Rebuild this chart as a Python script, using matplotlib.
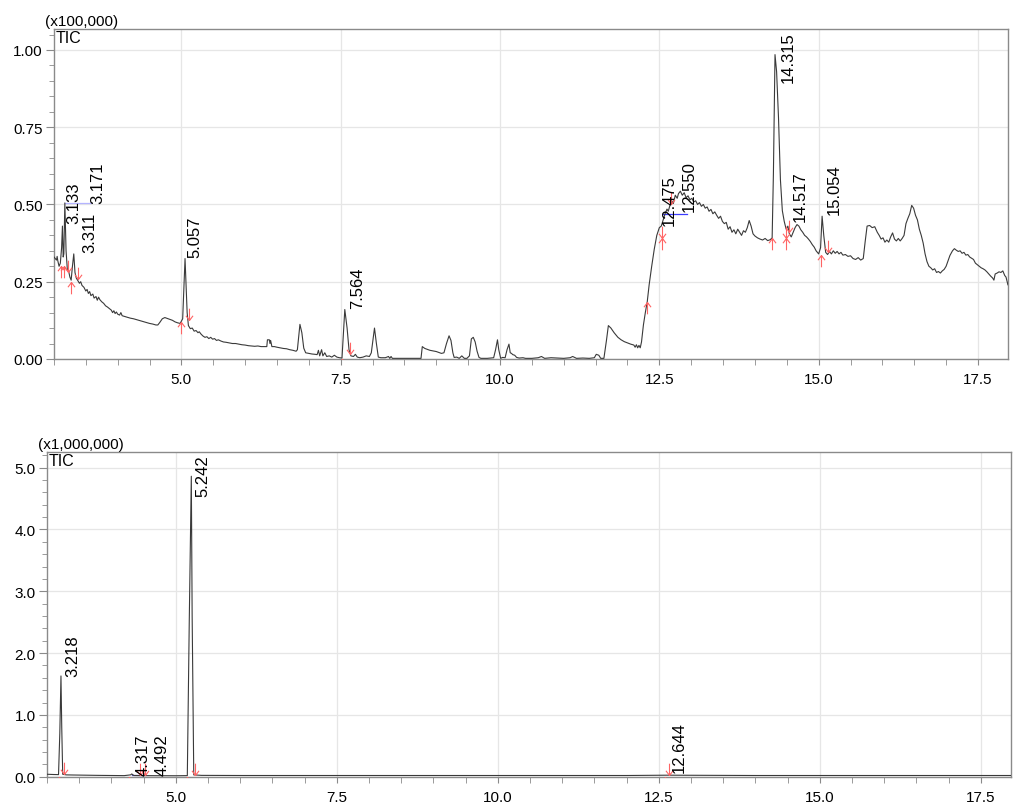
import numpy as np
import matplotlib
matplotlib.use("Agg")
import matplotlib.pyplot as plt
from matplotlib.path import Path
from matplotlib.ticker import MultipleLocator, FormatStrFormatter

plt.rcParams['font.family'] = ['Liberation Sans', 'DejaVu Sans']

# TIC, run 1 (x100,000 counts)
top_t = [3.00, 3.02, 3.04, 3.05, 3.06, 3.08, 3.10, 3.12, 3.133, 3.145, 3.155, 3.171, 3.19, 3.21,
         3.23, 3.25, 3.27, 3.29, 3.311, 3.33, 3.35, 3.37, 3.40, 3.42, 3.44, 3.47, 3.50, 3.52,
         3.54, 3.56, 3.58, 3.61, 3.63, 3.66, 3.68, 3.70, 3.72, 3.75, 3.78, 3.81, 3.84, 3.87,
         3.90, 3.92, 3.94, 3.96, 3.98, 4.00, 4.03, 4.05, 4.07, 4.10, 4.15, 4.20, 4.25, 4.30,
         4.35, 4.40, 4.45, 4.50, 4.55, 4.60, 4.63, 4.66, 4.70, 4.74, 4.78, 4.82, 4.86, 4.90,
         4.94, 4.98, 5.02, 5.057, 5.09, 5.11, 5.14, 5.17, 5.20, 5.23, 5.26, 5.28, 5.31, 5.34,
         5.37, 5.40, 5.43, 5.46, 5.49, 5.52, 5.55, 5.58, 5.62, 5.66, 5.70, 5.75, 5.80, 5.85,
         5.90, 5.95, 6.00, 6.05, 6.10, 6.15, 6.20, 6.25, 6.30, 6.34, 6.35, 6.38, 6.39, 6.40,
         6.42, 6.46, 6.50, 6.55, 6.60, 6.65, 6.70, 6.75, 6.80, 6.82, 6.86, 6.89, 6.92, 6.95,
         7.00, 7.05, 7.10, 7.13, 7.15, 7.17, 7.20, 7.22, 7.25, 7.28, 7.32, 7.36, 7.40, 7.44,
         7.48, 7.52, 7.564, 7.60, 7.63, 7.66, 7.70, 7.73, 7.76, 7.80, 7.85, 7.90, 7.95, 7.98,
         8.03, 8.06, 8.09, 8.13, 8.20, 8.25, 8.27, 8.29, 8.31, 8.35, 8.40, 8.50, 8.60, 8.70,
         8.76, 8.78, 8.82, 8.90, 9.00, 9.08, 9.12, 9.16, 9.20, 9.23, 9.26, 9.28, 9.32, 9.36,
         9.40, 9.44, 9.48, 9.52, 9.55, 9.58, 9.61, 9.64, 9.67, 9.70, 9.80, 9.90, 9.93, 9.96,
         9.98, 10.01, 10.04, 10.08, 10.11, 10.14, 10.16, 10.18, 10.20, 10.23, 10.26, 10.30,
         10.36, 10.40, 10.50, 10.60, 10.65, 10.70, 10.80, 10.90, 11.00, 11.10, 11.14, 11.20,
         11.30, 11.40, 11.48, 11.51, 11.55, 11.58, 11.63, 11.67, 11.70, 11.74, 11.79, 11.85,
         11.90, 11.95, 12.00, 12.05, 12.10, 12.12, 12.14, 12.16, 12.18, 12.20, 12.22, 12.25,
         12.28, 12.31, 12.34, 12.38, 12.42, 12.46, 12.50, 12.53, 12.56, 12.59, 12.62, 12.64,
         12.67, 12.70, 12.72, 12.75, 12.78, 12.80, 12.83, 12.86, 12.89, 12.92, 12.95, 12.98,
         13.01, 13.04, 13.07, 13.10, 13.13, 13.16, 13.19, 13.22, 13.25, 13.28, 13.31, 13.34,
         13.37, 13.40, 13.43, 13.46, 13.49, 13.52, 13.55, 13.58, 13.61, 13.64, 13.67, 13.70,
         13.73, 13.76, 13.79, 13.82, 13.85, 13.88, 13.91, 13.94, 13.97, 14.00, 14.04, 14.08,
         14.12, 14.16, 14.20, 14.24, 14.27, 14.29, 14.315, 14.34, 14.37, 14.40, 14.43, 14.46,
         14.49, 14.517, 14.54, 14.57, 14.60, 14.63, 14.66, 14.69, 14.72, 14.75, 14.78, 14.81,
         14.84, 14.87, 14.90, 14.93, 14.96, 15.00, 15.03, 15.054, 15.08, 15.11, 15.14, 15.17,
         15.20, 15.23, 15.26, 15.29, 15.32, 15.35, 15.38, 15.42, 15.46, 15.50, 15.54, 15.58,
         15.62, 15.66, 15.70, 15.73, 15.76, 15.80, 15.84, 15.88, 15.92, 15.95, 15.98, 16.01,
         16.04, 16.07, 16.10, 16.13, 16.16, 16.19, 16.22, 16.25, 16.28, 16.31, 16.34, 16.37,
         16.40, 16.43, 16.46, 16.49, 16.52, 16.55, 16.58, 16.61, 16.64, 16.67, 16.70, 16.73,
         16.76, 16.79, 16.82, 16.85, 16.88, 16.91, 16.94, 16.97, 17.00, 17.03, 17.06, 17.10,
         17.13, 17.16, 17.19, 17.22, 17.25, 17.28, 17.31, 17.34, 17.37, 17.40, 17.43, 17.46,
         17.49, 17.52, 17.55, 17.58, 17.61, 17.64, 17.67, 17.70, 17.73, 17.75, 17.77, 17.80,
         17.83, 17.86, 17.89, 17.92, 17.94, 17.97]
top_i = [0.330, 0.325, 0.320, 0.332, 0.318, 0.300, 0.310, 0.360, 0.430, 0.330, 0.340, 0.505, 0.350, 0.290,
         0.285, 0.265, 0.255, 0.300, 0.340, 0.280, 0.262, 0.255, 0.245, 0.250, 0.238, 0.232, 0.220, 0.225,
         0.212, 0.218, 0.205, 0.210, 0.197, 0.202, 0.190, 0.200, 0.192, 0.185, 0.180, 0.172, 0.168, 0.163,
         0.158, 0.150, 0.156, 0.147, 0.152, 0.145, 0.142, 0.150, 0.140, 0.138, 0.135, 0.132, 0.130, 0.127,
         0.124, 0.121, 0.118, 0.115, 0.113, 0.110, 0.110, 0.118, 0.130, 0.134, 0.131, 0.128, 0.125, 0.120,
         0.117, 0.115, 0.130, 0.325, 0.150, 0.108, 0.098, 0.100, 0.090, 0.092, 0.085, 0.088, 0.080, 0.074,
         0.070, 0.072, 0.066, 0.070, 0.064, 0.066, 0.060, 0.062, 0.058, 0.055, 0.054, 0.052, 0.050, 0.050,
         0.048, 0.046, 0.045, 0.043, 0.042, 0.041, 0.042, 0.040, 0.040, 0.040, 0.062, 0.062, 0.050, 0.060,
         0.040, 0.040, 0.038, 0.036, 0.034, 0.033, 0.030, 0.028, 0.025, 0.030, 0.112, 0.085, 0.035, 0.020,
         0.018, 0.016, 0.015, 0.014, 0.028, 0.010, 0.030, 0.010, 0.020, 0.008, 0.010, 0.006, 0.012, 0.006,
         0.004, 0.003, 0.160, 0.100, 0.030, 0.010, 0.008, 0.015, 0.006, 0.004, 0.006, 0.010, 0.008, 0.020,
         0.100, 0.050, 0.006, 0.004, 0.004, 0.008, 0.002, 0.008, 0.002, 0.002, 0.002, 0.002, 0.002, 0.002,
         0.002, 0.040, 0.034, 0.028, 0.024, 0.018, 0.020, 0.050, 0.075, 0.060, 0.020, 0.005, 0.006, 0.002,
         0.010, 0.002, 0.002, 0.010, 0.065, 0.070, 0.055, 0.025, 0.005, 0.002, 0.002, 0.004, 0.030, 0.062,
         0.030, 0.002, 0.005, 0.004, 0.030, 0.048, 0.020, 0.018, 0.014, 0.012, 0.005, 0.003,
         0.004, 0.002, 0.002, 0.004, 0.008, 0.002, 0.004, 0.003, 0.002, 0.004, 0.008, 0.002,
         0.003, 0.002, 0.004, 0.015, 0.012, 0.002, 0.002, 0.060, 0.108, 0.100, 0.085, 0.070,
         0.062, 0.056, 0.052, 0.048, 0.045, 0.038, 0.046, 0.036, 0.044, 0.036, 0.055, 0.110,
         0.150, 0.185, 0.240, 0.300, 0.355, 0.400, 0.425, 0.430, 0.450, 0.470, 0.485, 0.478,
         0.500, 0.510, 0.503, 0.530, 0.520, 0.535, 0.543, 0.530, 0.538, 0.522, 0.528, 0.515,
         0.520, 0.508, 0.512, 0.500, 0.506, 0.494, 0.500, 0.488, 0.492, 0.478, 0.484, 0.470,
         0.476, 0.465, 0.455, 0.462, 0.445, 0.438, 0.442, 0.420, 0.428, 0.410, 0.418, 0.405,
         0.420, 0.410, 0.400, 0.415, 0.410, 0.425, 0.448, 0.430, 0.405, 0.398, 0.392, 0.388,
         0.385, 0.390, 0.383, 0.386, 0.392, 0.600, 0.985, 0.930, 0.780, 0.580, 0.480, 0.445,
         0.420, 0.430, 0.405, 0.395, 0.410, 0.425, 0.435, 0.430, 0.418, 0.410, 0.400, 0.395,
         0.388, 0.380, 0.370, 0.362, 0.350, 0.340, 0.360, 0.462, 0.400, 0.345, 0.338, 0.348,
         0.340, 0.350, 0.342, 0.348, 0.340, 0.345, 0.336, 0.338, 0.332, 0.334, 0.325, 0.322,
         0.328, 0.320, 0.325, 0.380, 0.430, 0.432, 0.425, 0.428, 0.410, 0.400, 0.388, 0.392,
         0.378, 0.385, 0.378, 0.395, 0.408, 0.388, 0.382, 0.390, 0.382, 0.390, 0.400, 0.438,
         0.455, 0.470, 0.497, 0.488, 0.465, 0.450, 0.420, 0.400, 0.375, 0.340, 0.315, 0.300,
         0.295, 0.288, 0.292, 0.280, 0.283, 0.278, 0.285, 0.290, 0.300, 0.318, 0.335, 0.350,
         0.357, 0.352, 0.348, 0.350, 0.342, 0.345, 0.336, 0.338, 0.330, 0.326, 0.322, 0.310,
         0.305, 0.300, 0.295, 0.292, 0.288, 0.282, 0.275, 0.268, 0.262, 0.255, 0.275, 0.278,
         0.282, 0.280, 0.285, 0.270, 0.265, 0.240]

# TIC, run 2 (x1,000,000 counts)
bot_t = [3.00, 3.05, 3.10, 3.15, 3.18, 3.20, 3.218, 3.23, 3.245, 3.30, 3.40, 3.60, 3.80, 4.00,
         4.20, 4.30, 4.317, 4.35, 4.50, 4.70, 5.00, 5.18, 5.21, 5.242, 5.255, 5.28, 5.40, 6.00,
         8.00, 10.00, 12.00, 12.644, 14.00, 16.00, 17.97]
bot_i = [0.040, 0.038, 0.036, 0.035, 0.034, 0.700, 1.630, 0.800, 0.040, 0.030, 0.028, 0.025, 0.022, 0.020,
         0.018, 0.030, 0.045, 0.020, 0.018, 0.017, 0.016, 0.018, 2.500, 4.860, 2.600, 0.030, 0.022, 0.020,
         0.020, 0.020, 0.020, 0.025, 0.020, 0.020, 0.020]

# integration marks: peak start (up) and peak end (down)
top_start = [(3.11, 0.30), (3.16, 0.30), (3.26, 0.25), (5.00, 0.12), (7.52, 0.0), (12.31, 0.185),
             (12.54, 0.39), (14.27, 0.39), (14.48, 0.39), (15.03, 0.335)]
top_end = [(3.22, 0.28), (3.37, 0.258), (5.12, 0.125), (7.65, 0.016), (12.54, 0.39), (12.68, 0.50),
           (14.48, 0.39), (14.54, 0.41), (15.14, 0.345)]
bot_start = [(3.18, 0.0), (4.28, 0.0), (5.17, 0.0), (12.60, 0.0)]
bot_end = [(3.26, 0.04), (4.45, 0.02), (4.52, 0.02), (5.30, 0.03), (12.66, 0.03)]

# peak labels: retention time, label anchor (t, intensity)
top_labels = ['3.133', '3.171', '3.311', '5.057', '7.564', '12.475', '12.550', '14.315', '14.517', '15.054']
top_label_pos = [(3.20, 0.44), (3.57, 0.506), (3.44, 0.345), (5.10, 0.33), (7.65, 0.164),
                 (12.53, 0.435), (12.85, 0.478), (14.40, 0.895), (14.60, 0.446), (15.13, 0.468)]
bot_labels = ['3.218', '4.317', '4.492', '5.242', '12.644']
bot_label_pos = [(3.28, 1.63), (4.37, 0.02), (4.68, 0.02), (5.30, 4.54), (12.70, 0.075)]

# arrow markers with the tip at the origin
up_arrow = Path([(0, -1), (0, 0), (-0.3, -0.4), (0, 0), (0.3, -0.4)],
                [Path.MOVETO, Path.LINETO, Path.MOVETO, Path.LINETO, Path.LINETO])
down_arrow = Path([(0, 1), (0, 0), (-0.3, 0.4), (0, 0), (0.3, 0.4)],
                  [Path.MOVETO, Path.LINETO, Path.MOVETO, Path.LINETO, Path.LINETO])

fig = plt.figure(figsize=(10.18, 8.12), dpi=100)
ax1 = fig.add_axes([0.0530, 0.5567, 0.9371, 0.4064])
ax2 = fig.add_axes([0.0461, 0.0422, 0.9470, 0.4005])

panels = [
    (ax1, top_t, top_i, top_start, top_end, top_labels, top_label_pos, 1.068, 0.25, 0.05, '%.2f', '(x100,000)'),
    (ax2, bot_t, bot_i, bot_start, bot_end, bot_labels, bot_label_pos, 5.26, 1.0, 0.2, '%.1f', '(x1,000,000)'),
]

for ax, t, y, starts, ends, labels, label_pos, ytop, ymaj, ymin, yfmt, scale in panels:
    ax.plot(t, y, color='#3a3a3a', lw=0.8, zorder=3)

    sx, sy = zip(*starts)
    ex, ey = zip(*ends)
    ax.plot(sx, sy, ls='none', marker=up_arrow, ms=17, mfc='none', mec='#ff6464', mew=0.8, zorder=4)
    ax.plot(ex, ey, ls='none', marker=down_arrow, ms=17, mfc='none', mec='#ff6464', mew=0.8, zorder=4)

    for lab, (lx, ly) in zip(labels, label_pos):
        ax.text(lx, ly, lab, rotation=90, ha='left', va='bottom', fontsize=12, zorder=5)

    ax.set_xlim(3.0, 17.97)
    ax.set_ylim(0, ytop)
    ax.xaxis.set_minor_locator(MultipleLocator(0.5))
    ax.xaxis.set_major_formatter(FormatStrFormatter('%.1f'))
    ax.yaxis.set_major_locator(MultipleLocator(ymaj))
    ax.yaxis.set_minor_locator(MultipleLocator(ymin))
    ax.yaxis.set_major_formatter(FormatStrFormatter(yfmt))
    ax.set_xticks([5.0, 7.5, 10.0, 12.5, 15.0, 17.5])

    ax.grid(True, which='major', color='#e6e6e6', lw=0.9, zorder=0)
    ax.set_axisbelow(True)
    for sp in ax.spines.values():
        sp.set_color('#8a8a8a')
        sp.set_linewidth(1.0)

    ax.tick_params(axis='x', which='both', direction='out', length=4.5, color='#8a8a8a',
                   labelsize=11, pad=5)
    ax.tick_params(axis='y', which='major', direction='out', length=6, color='#8a8a8a',
                   labelsize=11, pad=2)
    ax.tick_params(axis='y', which='minor', direction='out', length=3.5, color='#8a8a8a')

    ax.text(-0.009, 1.003, scale, transform=ax.transAxes, ha='left', va='bottom', fontsize=11)
    ax.text(0.002, 0.997, 'TIC', transform=ax.transAxes, ha='left', va='top', fontsize=11.5)

# baseline segments drawn by the integrator
ax1.plot([3.18, 3.58], [0.506, 0.506], color='#b4b4ff', lw=0.9, zorder=2)
ax1.plot([12.56, 12.93], [0.47, 0.47], color='#3c3cff', lw=0.9, zorder=2)
ax2.plot([4.32, 4.49], [0.02, 0.02], color='#5050c8', lw=0.9, zorder=2)

fig.savefig('out.png', dpi=100)
